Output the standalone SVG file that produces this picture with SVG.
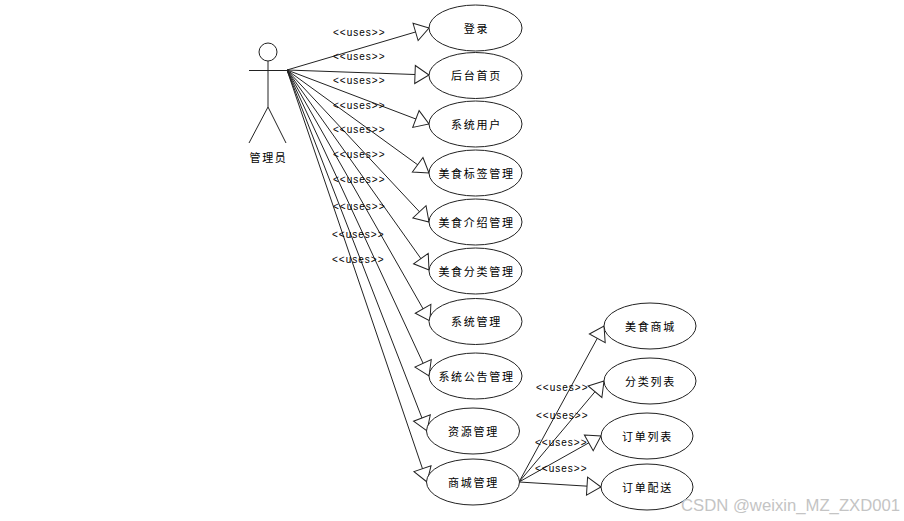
<svg xmlns="http://www.w3.org/2000/svg" width="904" height="521" viewBox="0 0 904 521">
<style>
.shape{fill:#fff;stroke:#222;stroke-width:1}
.stick{fill:none;stroke:#222;stroke-width:1}
.conn{fill:none;stroke:#222;stroke-width:1;marker-end:url(#tri)}
.cn{font-family:"Noto Sans CJK SC","Liberation Sans",sans-serif;font-size:11px;letter-spacing:1.7px;text-anchor:middle;fill:#000}
.uses{font-family:"Liberation Sans",sans-serif;font-size:10px;letter-spacing:1px;fill:#000}
.wm{font-family:"Liberation Sans",sans-serif;font-size:16.700px;fill:#c4c4c4}
</style>
<defs>
<marker id="tri" markerUnits="userSpaceOnUse" markerWidth="18" markerHeight="22" refX="15" refY="10" orient="auto" overflow="visible">
<path d="M1,1 L15,10 L1,19 Z" fill="#fff" stroke="#222" stroke-width="1"/>
</marker>
</defs>
<rect width="904" height="521" fill="#fff"/>
<g id="connectors">
<path class="conn" d="M287,70 L429,28"/>
<path class="conn" d="M287,70 L429,75"/>
<path class="conn" d="M287,70 L429,124"/>
<path class="conn" d="M287,70 L429,173"/>
<path class="conn" d="M287,70 L429,222"/>
<path class="conn" d="M287,70 L429,270"/>
<path class="conn" d="M287,70 L430,321"/>
<path class="conn" d="M287,70 L429,376"/>
<path class="conn" d="M287,70 L427,431"/>
<path class="conn" d="M287,70 L427,482"/>
<path class="conn" d="M519,482 L604,326"/>
<path class="conn" d="M519,482 L604,381"/>
<path class="conn" d="M519,482 L601,436"/>
<path class="conn" d="M519,482 L601,487"/>
</g>
<g id="connector-labels">
<text class="uses" x="333" y="36">&lt;&lt;uses&gt;&gt;</text>
<text class="uses" x="333" y="60">&lt;&lt;uses&gt;&gt;</text>
<text class="uses" x="333" y="84">&lt;&lt;uses&gt;&gt;</text>
<text class="uses" x="333" y="109">&lt;&lt;uses&gt;&gt;</text>
<text class="uses" x="333" y="133">&lt;&lt;uses&gt;&gt;</text>
<text class="uses" x="333" y="158">&lt;&lt;uses&gt;&gt;</text>
<text class="uses" x="333" y="183">&lt;&lt;uses&gt;&gt;</text>
<text class="uses" x="333" y="210">&lt;&lt;uses&gt;&gt;</text>
<text class="uses" x="332" y="238">&lt;&lt;uses&gt;&gt;</text>
<text class="uses" x="332" y="263">&lt;&lt;uses&gt;&gt;</text>
<text class="uses" x="536" y="391">&lt;&lt;uses&gt;&gt;</text>
<text class="uses" x="536" y="419">&lt;&lt;uses&gt;&gt;</text>
<text class="uses" x="535" y="446">&lt;&lt;uses&gt;&gt;</text>
<text class="uses" x="535" y="472">&lt;&lt;uses&gt;&gt;</text>
</g>
<g id="actor">
<circle class="stick" cx="268" cy="52" r="9"/>
<path class="stick" d="M249,70.500 H287 M268,61 V107 L249,143 M268,107 L286,143"/>
<text class="cn" x="268.500" y="162">管理员</text>
</g>
<g id="uc-login"><ellipse class="shape" cx="475.500" cy="28" rx="46.500" ry="23"/><text class="cn" x="476.500" y="33">登录</text></g>
<g id="uc-home"><ellipse class="shape" cx="475.500" cy="75.500" rx="46.500" ry="23"/><text class="cn" x="476.500" y="80">后台首页</text></g>
<g id="uc-user"><ellipse class="shape" cx="475.500" cy="124" rx="46.500" ry="23"/><text class="cn" x="476.500" y="129">系统用户</text></g>
<g id="uc-tag"><ellipse class="shape" cx="475.500" cy="173" rx="46.500" ry="23"/><text class="cn" x="476.500" y="178">美食标签管理</text></g>
<g id="uc-intro"><ellipse class="shape" cx="475.500" cy="222" rx="46.500" ry="23"/><text class="cn" x="476.500" y="227">美食介绍管理</text></g>
<g id="uc-cat"><ellipse class="shape" cx="475.500" cy="271" rx="46.500" ry="23"/><text class="cn" x="476.500" y="276">美食分类管理</text></g>
<g id="uc-sys"><ellipse class="shape" cx="475.500" cy="321.500" rx="46.500" ry="23"/><text class="cn" x="476.500" y="326">系统管理</text></g>
<g id="uc-notice"><ellipse class="shape" cx="475.500" cy="376" rx="46.500" ry="23"/><text class="cn" x="476.500" y="381">系统公告管理</text></g>
<g id="uc-res"><ellipse class="shape" cx="473" cy="431" rx="46.500" ry="23"/><text class="cn" x="473.500" y="436">资源管理</text></g>
<g id="uc-mall"><ellipse class="shape" cx="473" cy="482" rx="46.500" ry="23"/><text class="cn" x="473.500" y="487">商城管理</text></g>
<g id="uc-foodmall"><ellipse class="shape" cx="650" cy="326" rx="46" ry="23"/><text class="cn" x="650.500" y="331">美食商城</text></g>
<g id="uc-catlist"><ellipse class="shape" cx="650" cy="381" rx="46" ry="23"/><text class="cn" x="650.500" y="386">分类列表</text></g>
<g id="uc-orderlist"><ellipse class="shape" cx="647" cy="436" rx="46" ry="23"/><text class="cn" x="647.500" y="441">订单列表</text></g>
<g id="uc-delivery"><ellipse class="shape" cx="647" cy="487" rx="46" ry="23"/><text class="cn" x="647.500" y="492">订单配送</text></g>
<text class="wm" x="681" y="511">CSDN @weixin_MZ_ZXD001</text>
</svg>
